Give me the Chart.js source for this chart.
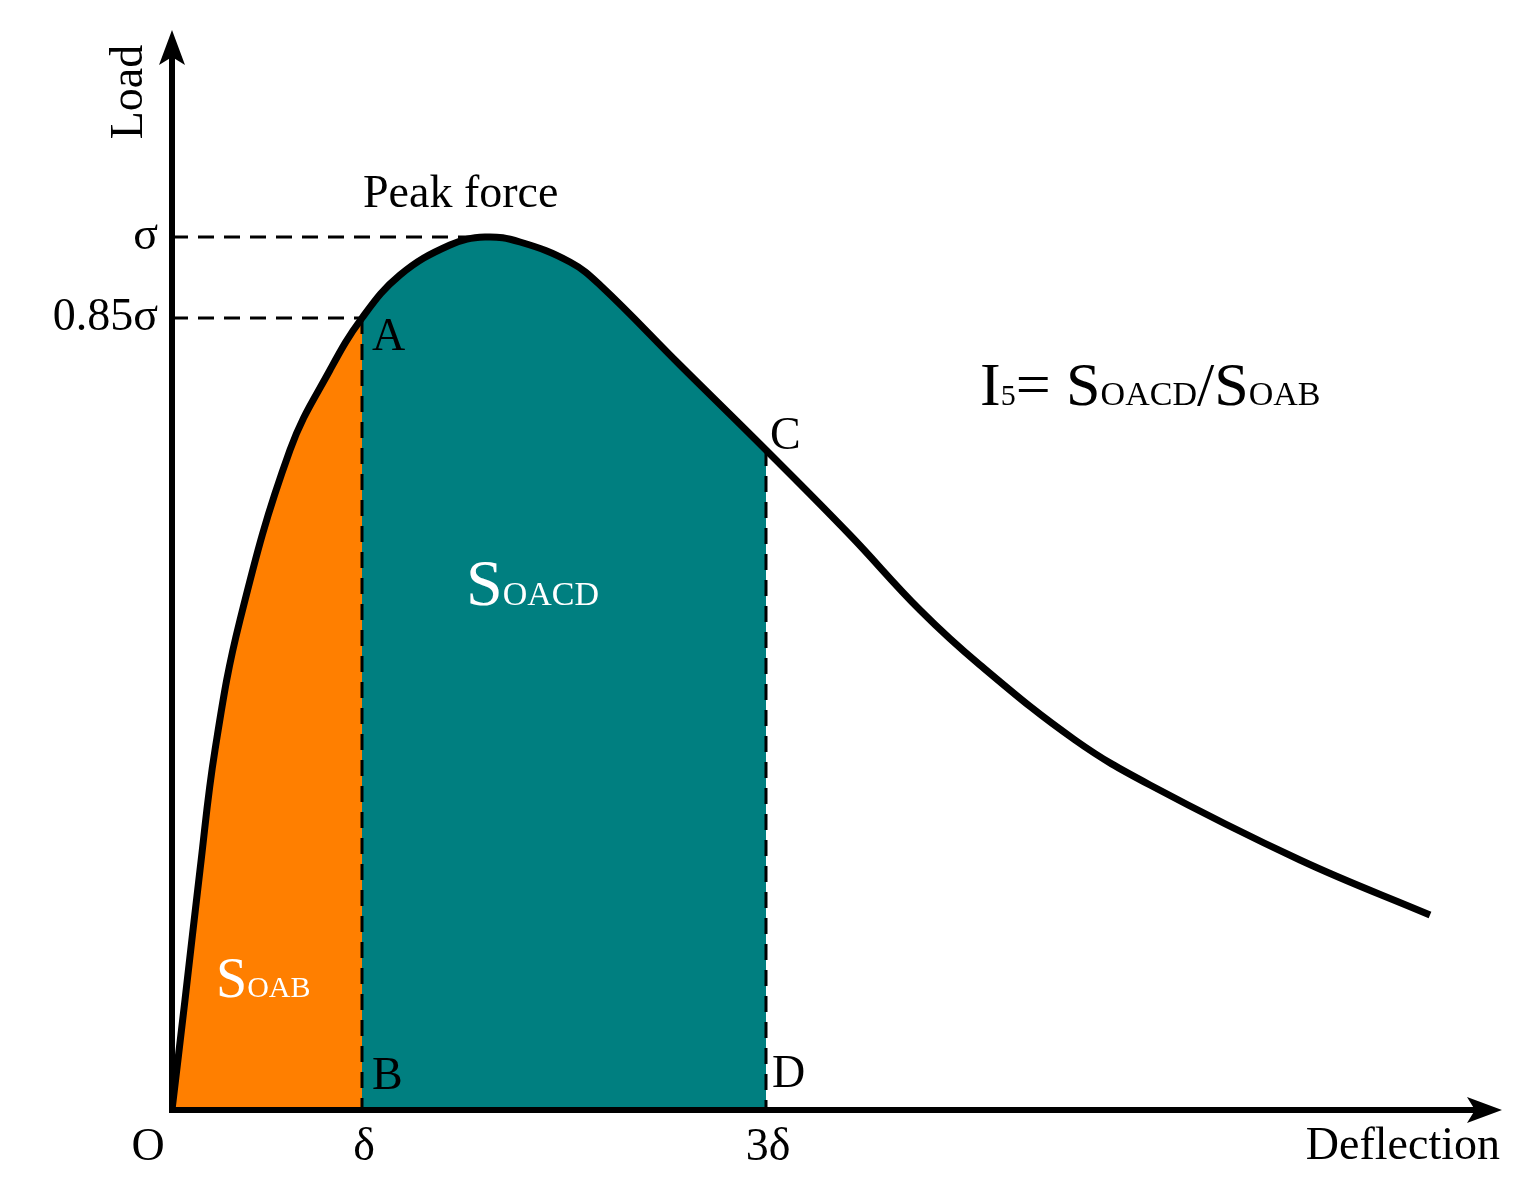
<!DOCTYPE html>
<html><head><meta charset="utf-8">
<script src="https://cdn.jsdelivr.net/npm/chart.js@4/dist/chart.umd.min.js"></script>
<style>html,body{margin:0;padding:0;background:#fff}#w{width:1533px;height:1201px}</style>
</head><body><div id="w"><canvas id="c" width="1533" height="1201"></canvas></div>
<script>
// deflection / load values (schematic units)
const curveX = [0, 13, 28, 43, 68, 118, 158, 190, 228, 278, 313, 348, 398, 428, 508, 594, 678, 748, 808, 903, 978, 1128, 1258];
const curveY = [0, 110, 240, 360, 490, 660, 740, 792, 835, 865, 873, 868, 848, 825, 745, 660, 575, 500, 445, 370, 325, 250, 195];
const deltaX = 190, threeDeltaX = 594, peakX = 313, sigmaY = 873, sigma85Y = 792, cY = 660;
const tickLabels = ["O", "δ", "3δ"];
const pts = curveX.map((x, i) => ({x, y: curveY[i]}));
const orangePts = pts.filter(p => p.x <= deltaX);
const tealPts = pts.filter(p => p.x >= deltaX && p.x <= threeDeltaX);

const deco = {
  id: 'deco',
  afterDatasetsDraw(ch) {
    const c = ch.ctx, xs = ch.scales.x, ys = ch.scales.y;
    const X = v => xs.getPixelForValue(v), Y = v => ys.getPixelForValue(v);
    const x0 = X(0), y0 = Y(0);
    c.save();
    // dashed lines
    c.strokeStyle = '#000'; c.lineWidth = 3; c.setLineDash([16, 10]);
    c.beginPath();
    c.moveTo(x0, Y(sigmaY)); c.lineTo(X(peakX), Y(sigmaY));
    c.moveTo(x0, Y(sigma85Y)); c.lineTo(X(deltaX), Y(sigma85Y));
    c.moveTo(X(deltaX), Y(sigma85Y)); c.lineTo(X(deltaX), y0);
    c.moveTo(X(threeDeltaX), Y(cY)); c.lineTo(X(threeDeltaX), y0);
    c.stroke(); c.setLineDash([]);
    // axes
    c.lineWidth = 6; c.beginPath();
    c.moveTo(x0, y0); c.lineTo(x0, ch.chartArea.top + 10);
    c.moveTo(x0 - 3, y0); c.lineTo(ch.chartArea.right - 10, y0);
    c.stroke();
    c.fillStyle = '#000';
    c.beginPath(); c.moveTo(x0, ch.chartArea.top - 5); c.lineTo(x0 - 13, ch.chartArea.top + 30); c.lineTo(x0, ch.chartArea.top + 22); c.lineTo(x0 + 13, ch.chartArea.top + 30); c.fill();
    const r = ch.chartArea.right;
    c.beginPath(); c.moveTo(r + 2, y0); c.lineTo(r - 33, y0 - 13); c.lineTo(r - 25, y0); c.lineTo(r - 33, y0 + 13); c.fill();
    // text
    const F = s => s + 'px "Liberation Serif", "Times New Roman", serif';
    c.font = F(46); c.textBaseline = 'middle';
    c.textAlign = 'left'; c.fillText('Peak force', 363, 195);
    c.textAlign = 'right'; c.fillText('σ', 158, 237); c.fillText('0.85σ', 158, 318);
    c.textAlign = 'left';
    c.fillText('A', 372, 338); c.fillText('C', 770, 437);
    c.fillText('B', 372, 1077); c.fillText('D', 772, 1075);
    c.textAlign = 'center';
    [0, deltaX, threeDeltaX].forEach((v, i) => c.fillText(tickLabels[i], X(v) + (i === 0 ? -24 : 2), 1148));
    c.textAlign = 'right'; c.fillText('Deflection', 1500, 1147);
    c.save(); c.translate(130, 92); c.rotate(-Math.PI / 2); c.textAlign = 'center'; c.fillText('Load', 0, 0); c.restore();
    // S labels
    const sLabel = (x, y, big, sub, color, bs, ss) => {
      c.fillStyle = color; c.textAlign = 'left'; c.textBaseline = 'alphabetic';
      c.font = F(bs); c.fillText(big, x, y); const w = c.measureText(big).width;
      c.font = F(ss); c.fillText(sub, x + w, y);
      return x + w + c.measureText(sub).width;
    };
    sLabel(466, 605, 'S', 'OACD', '#fff', 66, 34);
    sLabel(216, 997, 'S', 'OAB', '#fff', 56, 30);
    let x = sLabel(980, 405, 'I', '5', '#000', 62, 30);
    x = sLabel(x, 405, '= S', 'OACD', '#000', 62, 34);
    sLabel(x, 405, '/S', 'OAB', '#000', 62, 34);
    c.restore();
  }
};

new Chart(document.getElementById('c'), {
  type: 'scatter',
  data: { datasets: [
    { data: orangePts, showLine: true, fill: 'origin', backgroundColor: '#FF7F00', borderWidth: 0, pointRadius: 0, tension: 0.4, order: 3 },
    { data: tealPts, showLine: true, fill: 'origin', backgroundColor: '#007F80', borderWidth: 0, pointRadius: 0, tension: 0.4, order: 2 },
    { data: pts, showLine: true, fill: false, borderColor: '#000', borderWidth: 7, pointRadius: 0, tension: 0.4, order: 1 }
  ]},
  options: {
    responsive: false, animation: false,
    layout: { padding: { left: 172, right: 33, top: 35, bottom: 91 } },
    plugins: { legend: { display: false }, tooltip: { enabled: false } },
    scales: {
      x: { type: 'linear', min: 0, max: 1328, display: false },
      y: { type: 'linear', min: 0, max: 1075, display: false }
    }
  },
  plugins: [deco]
});
</script></body></html>
